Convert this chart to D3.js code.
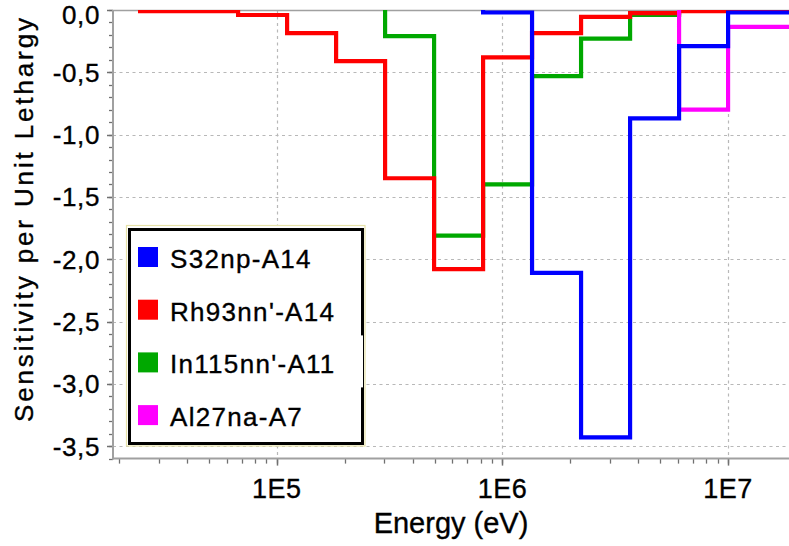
<!DOCTYPE html>
<html>
<head>
<meta charset="utf-8">
<script src="https://cdn.jsdelivr.net/npm/d3@7"></script>
<style>
  html, body { margin: 0; padding: 0; background: #fff; }
  svg { display: block; }
  text { font-family: "Liberation Sans", Arial, Helvetica, sans-serif; fill: #000; stroke: #000; stroke-width: 0.35px; }
</style>
</head>
<body>
<svg id="chart" width="789" height="546"></svg>
<script>
// Group boundaries (eV), equal lethargy width of 0.5 per group
const groupEdges = [2.479e4, 4.087e4, 6.738e4, 1.111e5, 1.832e5, 3.020e5, 4.979e5,
                    8.209e5, 1.353e6, 2.231e6, 3.679e6, 6.065e6, 1.0e7, 1.649e7, 2.0e7];

// Sensitivity per unit lethargy in each group (null = no data in that group)
const s32npA14   = [null, null, null, null, null, null, null, -0.02, -2.11, -3.43, -0.87, -0.29, -0.02, -0.02];
const rh93nnA14  = [-0.01, -0.01, -0.04, -0.185, -0.41, -1.35, -2.08, -0.38, -0.185, -0.055, -0.025, -0.01, -0.01, -0.01];
const in115nnA11 = [null, null, null, null, null, -0.21, -1.81, -1.40, -0.53, -0.23, -0.04, 0, 0, 0];
const al27naA7   = [null, null, null, null, null, null, null, null, null, null, null, -0.80, -0.135, -0.135];

const seriesNames  = ["S32np-A14", "Rh93nn'-A14", "In115nn'-A11", "Al27na-A7"];
const seriesColors = ["#0000ff", "#ff0000", "#00a800", "#ff00ff"];
const seriesValues = [s32npA14, rh93nnA14, in115nnA11, al27naA7];
const drawOrder    = [2, 1, 3, 0];   // blue ends up on top

const xTickValues = [1e5, 1e6, 1e7];
const xTickLabels = ["1E5", "1E6", "1E7"];
const yTickValues = [0, -0.5, -1.0, -1.5, -2.0, -2.5, -3.0, -3.5];
const yTickLabels = ["0,0", "-0,5", "-1,0", "-1,5", "-2,0", "-2,5", "-3,0", "-3,5"];

const xTitle = "Energy (eV)";
const yTitle = "Sensitivity per Unit Lethargy";

// ---- layout ----
const plot = { left: 113, top: 10, right: 796, bottom: 458.6 };
const svg = d3.select("#chart");

const x = d3.scaleLog().domain([1.88e4, 2.0e7]).range([plot.left, plot.right]);
const y = d3.scaleLinear().domain([-3.6, 0]).range([plot.bottom, plot.top]);

svg.append("rect").attr("width", 789).attr("height", 546).attr("fill", "#fff");

svg.append("clipPath").attr("id", "plotClip")
  .append("rect")
  .attr("x", plot.left).attr("y", plot.top)
  .attr("width", plot.right - plot.left).attr("height", plot.bottom - plot.top);

// ---- grid ----
const grid = svg.append("g").attr("stroke", "#b8b8b8").attr("stroke-width", 1.2)
  .attr("stroke-dasharray", "3,3.5");
grid.selectAll("line.h").data(yTickValues.filter(v => v !== 0)).join("line")
  .attr("class", "h")
  .attr("x1", plot.left).attr("x2", plot.right)
  .attr("y1", d => Math.round(y(d)) + 0.5).attr("y2", d => Math.round(y(d)) + 0.5);
grid.selectAll("line.v").data(xTickValues).join("line")
  .attr("class", "v")
  .attr("y1", plot.top).attr("y2", plot.bottom)
  .attr("x1", d => Math.round(x(d)) + 0.5).attr("x2", d => Math.round(x(d)) + 0.5);

// ---- axes ----
const axisColor = "#a0a0a0";
const tickColor = "#707070";

// y minor ticks every 0.1
const yMinor = y.ticks(36);
svg.append("g").selectAll("line").data(yMinor).join("line")
  .attr("x1", plot.left - 4).attr("x2", plot.left)
  .attr("y1", d => Math.round(y(d)) + 0.5).attr("y2", d => Math.round(y(d)) + 0.5)
  .attr("stroke", tickColor).attr("stroke-width", 1.3);
svg.append("g").selectAll("line").data(yTickValues).join("line")
  .attr("x1", plot.left - 6).attr("x2", plot.left)
  .attr("y1", d => Math.round(y(d)) + 0.5).attr("y2", d => Math.round(y(d)) + 0.5)
  .attr("stroke", tickColor).attr("stroke-width", 1.5);

// x minor ticks (2..9 per decade)
const xMinor = x.ticks().filter(d => d >= x.domain()[0] && d <= 1.99e7);
svg.append("g").selectAll("line").data(xMinor).join("line")
  .attr("y1", plot.bottom).attr("y2", plot.bottom + 5)
  .attr("x1", d => Math.round(x(d)) + 0.5).attr("x2", d => Math.round(x(d)) + 0.5)
  .attr("stroke", tickColor).attr("stroke-width", 1.3);
svg.append("g").selectAll("line").data(xTickValues).join("line")
  .attr("y1", plot.bottom).attr("y2", plot.bottom + 7)
  .attr("x1", d => Math.round(x(d)) + 0.5).attr("x2", d => Math.round(x(d)) + 0.5)
  .attr("stroke", tickColor).attr("stroke-width", 1.5);

// frame lines: top, left, bottom
svg.append("line").attr("x1", plot.left).attr("x2", 789).attr("y1", plot.top + 0.5).attr("y2", plot.top + 0.5)
  .attr("stroke", axisColor).attr("stroke-width", 1.6);
svg.append("line").attr("x1", plot.left).attr("x2", plot.left).attr("y1", plot.top).attr("y2", plot.bottom + 0.8)
  .attr("stroke", axisColor).attr("stroke-width", 2);
svg.append("line").attr("x1", plot.left - 1).attr("x2", 789).attr("y1", plot.bottom).attr("y2", plot.bottom)
  .attr("stroke", axisColor).attr("stroke-width", 2);

// tick labels (top label kept fully inside the canvas)
svg.append("g").selectAll("text").data(yTickValues).join("text")
  .attr("x", 100).attr("y", d => Math.max(y(d) + 9.5, 23.8))
  .attr("text-anchor", "end")
  .attr("font-size", 26).attr("letter-spacing", 0.6)
  .text((d, i) => yTickLabels[i]);
svg.append("g").selectAll("text").data(xTickValues).join("text")
  .attr("x", d => x(d)).attr("y", 498)
  .attr("text-anchor", "middle")
  .attr("font-size", 27).attr("letter-spacing", 0.5)
  .text((d, i) => xTickLabels[i]);

// axis titles
svg.append("text")
  .attr("x", (plot.left + 789) / 2).attr("y", 533)
  .attr("text-anchor", "middle").attr("font-size", 29)
  .text(xTitle);
svg.append("text")
  .attr("transform", "translate(33,220) rotate(-90)")
  .attr("text-anchor", "middle").attr("font-size", 26)
  .attr("textLength", 404).attr("lengthAdjust", "spacing")
  .text(yTitle);

// ---- step lines ----
function stepPoints(vals) {
  const i0 = vals.findIndex(v => v !== null);
  const pts = [[groupEdges[i0], 0]];
  vals.forEach((v, i) => {
    if (v === null) return;
    pts.push([groupEdges[i], v], [groupEdges[i + 1], v]);
  });
  return pts;
}
const line = d3.line().x(d => x(d[0])).y(d => y(d[1]));

const lines = svg.append("g").attr("clip-path", "url(#plotClip)");
drawOrder.forEach(k => {
  lines.append("path")
    .attr("d", line(stepPoints(seriesValues[k])))
    .attr("fill", "none")
    .attr("stroke", seriesColors[k])
    .attr("stroke-width", 4.2)
    .attr("stroke-linejoin", "miter")
    .attr("stroke-linecap", "square");
});

// ---- legend ----
const legend = svg.append("g");
legend.append("rect")
  .attr("x", 126.5).attr("y", 225.5).attr("width", 238.5).attr("height", 220.5)
  .attr("fill", "#fff").attr("stroke", "#e6e2a8").attr("stroke-width", 1.2);
legend.append("rect")
  .attr("x", 129.5).attr("y", 229.5).attr("width", 233).attr("height", 214)
  .attr("fill", "#fff").attr("stroke", "#000").attr("stroke-width", 3);

const rowTop = 247, rowStep = 52.7;
const rows = legend.selectAll("g.row").data(seriesNames).join("g")
  .attr("class", "row")
  .attr("transform", (d, i) => `translate(0,${rowTop + i * rowStep})`);
// the longest label sits on a white box that runs over the frame edge
rows.filter((d, i) => i === 2).append("rect")
  .attr("x", 176).attr("y", -17).attr("width", 187).attr("height", 52)
  .attr("fill", "#fff");
rows.append("rect")
  .attr("x", 138).attr("y", 0).attr("width", 20).attr("height", 20)
  .attr("fill", (d, i) => seriesColors[i]);
rows.append("text")
  .attr("x", 170).attr("y", 21)
  .attr("font-size", 26).attr("letter-spacing", 1.3)
  .text(d => d);
</script>
</body>
</html>
